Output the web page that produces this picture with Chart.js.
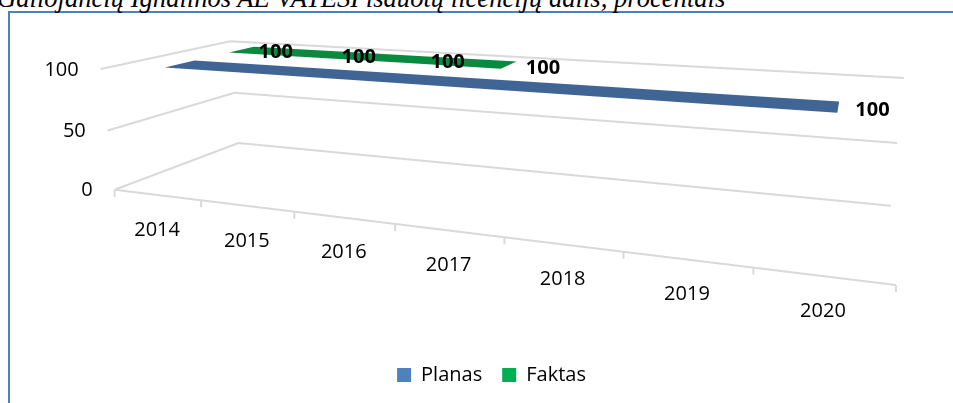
<!DOCTYPE html>
<html>
<head>
<meta charset="utf-8">
<script src="https://cdn.jsdelivr.net/npm/chart.js@4/dist/chart.umd.min.js"></script>
<style>
  html, body { margin: 0; padding: 0; background: #fff; overflow: hidden; }
  #page { position: relative; width: 953px; height: 403px; overflow: hidden; }
  #title {
    position: absolute; left: -3px; top: -15px; white-space: nowrap;
    font: italic 26.6px/26px "Liberation Serif", "Times New Roman", serif; color: #000;
  }
  #frame { position: absolute; left: 8px; top: 11px; width: 2000px; height: 1000px; border: 2px solid #4f81bd; }
  #box { position: absolute; left: 0; top: 0; width: 953px; height: 403px; }
</style>
</head>
<body>
<div id="page">
  <div id="frame"></div>
  <div id="title">Galiojančių Ignalinos AE VATESI išduotų licencijų dalis, procentais</div>
  <div id="box"><canvas id="chart"></canvas></div>
</div>
<script>
/* 3-D line chart (Excel style) redrawn on a Chart.js line chart.
   Chart.js scales give the normalised category / value positions,
   a fitted perspective camera turns them into the slanted view. */

var YEARS = ["2014", "2015", "2016", "2017", "2018", "2019", "2020"];
var PLANAS = [100, 100, 100, 100, 100, 100, 100];
var FAKTAS = [100, 100, 100, 100, null, null, null];
var Y_TICKS = [0, 50, 100];
var PLANAS_LABELED = ["2020"];
var FAKTAS_LABELED = ["2014", "2015", "2016", "2017"];

var FONT = "'Open Sans', 'Noto Sans', sans-serif";
var GRID = "#d9d9d9";

// box corners (u = category, v = value, w = depth; 0..1) -> page pixels
var CAMERA_PTS = [
  [0, 0, 0, 115, 190], [1, 0, 0, 896, 284], [0, 0, 1, 238, 143], [1, 0, 1, 891, 206],
  [0, 1, 0, 101, 69], [0, 1, 1, 230, 42], [1, 1, 1, 904, 78],
  [0, 0.5, 0, 107, 130], [0, 0.5, 1, 235, 92], [1, 0.5, 1, 897, 143],
  [1 / 7, 0, 0, 201, 201], [2 / 7, 0, 0, 295, 212], [3 / 7, 0, 0, 395, 223],
  [4 / 7, 0, 0, 504, 236], [5 / 7, 0, 0, 624, 253], [6 / 7, 0, 0, 753, 269]
];

function fitCamera(pts) {
  var N = 11, M = [], r = [], i, j, c, k;
  for (i = 0; i < N; i++) { M.push(new Array(N).fill(0)); r.push(0); }
  function add(row, b) {
    for (i = 0; i < N; i++) {
      r[i] += row[i] * b;
      for (j = 0; j < N; j++) M[i][j] += row[i] * row[j];
    }
  }
  pts.forEach(function (p) {
    var u = p[0], v = p[1], w = p[2], x = p[3], y = p[4];
    add([1, u, v, w, 0, 0, 0, 0, -x * u, -x * v, -x * w], x);
    add([0, 0, 0, 0, 1, u, v, w, -y * u, -y * v, -y * w], y);
  });
  for (c = 0; c < N; c++) {
    var piv = c;
    for (k = c + 1; k < N; k++) if (Math.abs(M[k][c]) > Math.abs(M[piv][c])) piv = k;
    var t = M[c]; M[c] = M[piv]; M[piv] = t;
    t = r[c]; r[c] = r[piv]; r[piv] = t;
    for (k = c + 1; k < N; k++) {
      var f = M[k][c] / M[c][c];
      for (j = c; j < N; j++) M[k][j] -= f * M[c][j];
      r[k] -= f * r[c];
    }
  }
  var q = new Array(N).fill(0);
  for (c = N - 1; c >= 0; c--) {
    var s = r[c];
    for (j = c + 1; j < N; j++) s -= M[c][j] * q[j];
    q[c] = s / M[c][c];
  }
  return function (u, v, w) {
    var d = 1 + q[8] * u + q[9] * v + q[10] * w;
    return { x: (q[0] + q[1] * u + q[2] * v + q[3] * w) / d, y: (q[4] + q[5] * u + q[6] * v + q[7] * w) / d };
  };
}

var project = fitCamera(CAMERA_PTS);

var view3d = {
  id: "view3d",
  afterDatasetsDraw: function (chart, args, opts) {
    var ctx = chart.ctx, xs = chart.scales.x, ys = chart.scales.y;
    var nCat = chart.data.labels.length, nSer = chart.data.datasets.length;
    function U(px) { return (px - xs.left) / (xs.right - xs.left); }
    function V(val) { return (ys.bottom - ys.getPixelForValue(val)) / (ys.bottom - ys.top); }
    function line(a, b) { ctx.beginPath(); ctx.moveTo(a.x, a.y); ctx.lineTo(b.x, b.y); ctx.stroke(); }

    // category boundaries along u
    var bounds = [0];
    for (var i = 1; i < nCat; i++) bounds.push(U((xs.getPixelForValue(i - 1) + xs.getPixelForValue(i)) / 2));
    bounds.push(1);

    ctx.save();
    ctx.strokeStyle = GRID; ctx.lineWidth = 2; ctx.lineCap = "butt";
    // walls: side (u = 0) and back (w = 1)
    Y_TICKS.forEach(function (t) {
      var v = V(t);
      var a = project(0, v, 0), b = project(0, v, 1), c = project(1, v, 1);
      ctx.beginPath(); ctx.moveTo(a.x, a.y); ctx.lineTo(b.x, b.y); ctx.lineTo(c.x, c.y); ctx.stroke();
    });
    // front category axis + ticks
    line(project(0, 0, 0), project(1, 0, 0));
    bounds.forEach(function (u) {
      var p = project(u, 0, 0);
      line(p, { x: p.x, y: p.y + 7 });
    });

    // ribbons, back row first
    for (var d = nSer - 1; d >= 0; d--) {
      var ds = chart.data.datasets[d];
      var wc = (d + 0.5) / nSer, w0 = wc - opts.halfDepth, w1 = wc + opts.halfDepth;
      var run = [];
      var flush = function () {
        if (run.length > 1) {
          ctx.beginPath();
          run.forEach(function (p, k) { var q = project(p.u, p.v, w0); k ? ctx.lineTo(q.x, q.y) : ctx.moveTo(q.x, q.y); });
          run.slice().reverse().forEach(function (p) { var q = project(p.u, p.v, w1); ctx.lineTo(q.x, q.y); });
          ctx.closePath();
          ctx.fillStyle = opts.ribbon[d];
          ctx.fill();
        }
        run = [];
      };
      ds.data.forEach(function (val, k) {
        if (val === null) { flush(); return; }
        run.push({ u: U(xs.getPixelForValue(k)), v: V(val) });
      });
      flush();
    }

    // data labels
    ctx.fillStyle = "#000"; ctx.textBaseline = "middle"; ctx.textAlign = "left";
    ctx.font = "bold 20px " + FONT;
    chart.data.datasets.forEach(function (ds, d) {
      var wc = (d + 0.5) / nSer;
      ds.data.forEach(function (val, k) {
        if (val === null || ds.shownLabels.indexOf(chart.data.labels[k]) < 0) return;
        var p = project(U(xs.getPixelForValue(k)), V(val), wc);
        ctx.fillText(String(val), p.x + 17, p.y + 3);
      });
    });

    // value axis labels on the side wall
    ctx.font = "20px " + FONT; ctx.textAlign = "right";
    Y_TICKS.forEach(function (t) {
      var p = project(0, V(t), 0);
      ctx.fillText(String(t), p.x - 22, p.y + 1);
    });
    // category labels under the front axis
    ctx.textAlign = "center";
    chart.data.labels.forEach(function (lab, k) {
      var p = project(U(xs.getPixelForValue(k)), 0, 0);
      ctx.fillText(lab, p.x, p.y + 35);
    });
    ctx.restore();
  }
};

new Chart(document.getElementById("chart"), {
  type: "line",
  data: {
    labels: YEARS,
    datasets: [
      { label: "Planas", data: PLANAS, shownLabels: PLANAS_LABELED, backgroundColor: "#4f81bd", borderColor: "#4f81bd",
        borderWidth: 0, showLine: false, pointRadius: 0, pointHoverRadius: 0 },
      { label: "Faktas", data: FAKTAS, shownLabels: FAKTAS_LABELED, backgroundColor: "#00b050", borderColor: "#00b050",
        borderWidth: 0, showLine: false, pointRadius: 0, pointHoverRadius: 0 }
    ]
  },
  options: {
    responsive: true, maintainAspectRatio: false, animation: false,
    layout: { padding: { left: 30, right: 0, top: 0, bottom: 8 } },
    events: [],
    scales: {
      x: { type: "category", display: false, offset: true },
      y: { display: false, min: 0, max: 100 }
    },
    plugins: {
      tooltip: { enabled: false },
      legend: {
        position: "bottom",
        labels: { boxWidth: 14, boxHeight: 14, padding: 20, color: "#000", font: { family: FONT, size: 20 } }
      },
      view3d: { halfDepth: 0.11, ribbon: ["#406494", "#0a8a3f"] }
    }
  },
  plugins: [view3d]
});
</script>
</body>
</html>
